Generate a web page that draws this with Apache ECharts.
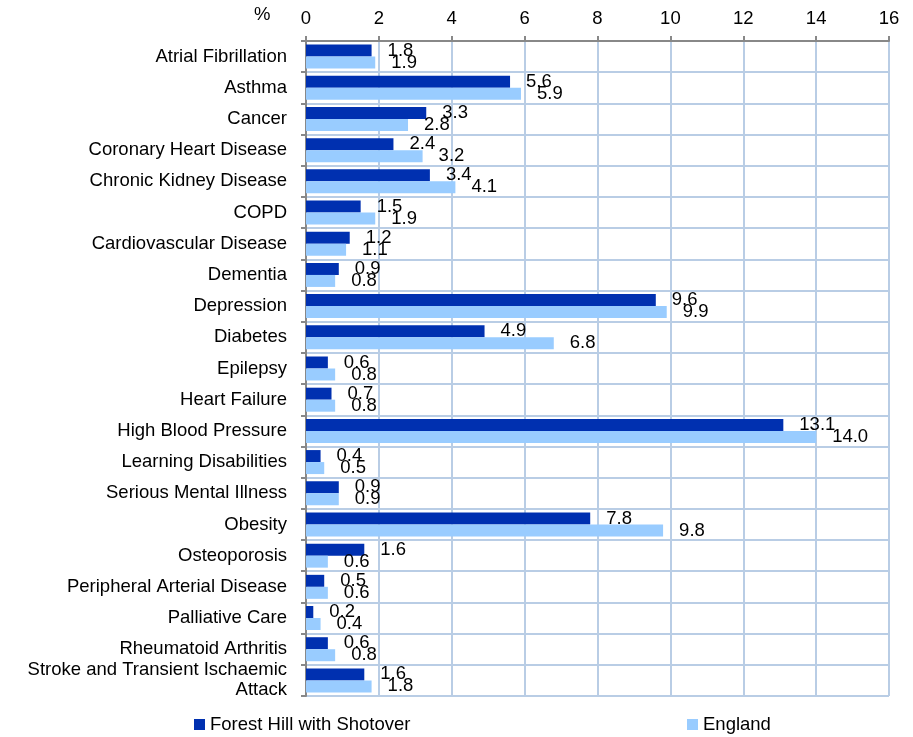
<!DOCTYPE html>
<html><head><meta charset="utf-8">
<script src="https://cdn.jsdelivr.net/npm/echarts@6/dist/echarts.min.js"></script>
<style>html,body{margin:0;padding:0;background:#fff}#c{width:913px;height:737px}</style>
</head><body><div id="c"></div>
<script>
const categories = ["Atrial Fibrillation","Asthma","Cancer","Coronary Heart Disease","Chronic Kidney Disease","COPD","Cardiovascular Disease","Dementia","Depression","Diabetes","Epilepsy","Heart Failure","High Blood Pressure","Learning Disabilities","Serious Mental Illness","Obesity","Osteoporosis","Peripheral Arterial Disease","Palliative Care","Rheumatoid Arthritis","Stroke and Transient Ischaemic\nAttack"];
const forestHill = [1.8,5.6,3.3,2.4,3.4,1.5,1.2,0.9,9.6,4.9,0.6,0.7,13.1,0.4,0.9,7.8,1.6,0.5,0.2,0.6,1.6];
const england = [1.9,5.9,2.8,3.2,4.1,1.9,1.1,0.8,9.9,6.8,0.8,0.8,14.0,0.5,0.9,9.8,0.6,0.6,0.4,0.8,1.8];
const seriesNames = ["Forest Hill with Shotover","England"];
const FONT = "'Liberation Sans', Arial, sans-serif";
const FS = 18.5;
const chart = echarts.init(document.getElementById('c'));
const lbl = {show:true, position:'right', distance:16, color:'#000', fontSize:FS, fontFamily:FONT, formatter:p=>p.value.toFixed(1)};
chart.setOption({
  animation:false,
  textStyle:{fontFamily:FONT},
  grid:{left:306, right:24, top:41, bottom:41, containLabel:false},
  graphic:[{type:'text', left:254, top:5, style:{text:'%', fontSize:FS, fontFamily:FONT, fill:'#000'}}],
  legend:[
    {data:[seriesNames[0]], left:189, top:710, itemWidth:11, itemHeight:11, itemGap:7, icon:'rect', textStyle:{fontSize:FS, fontFamily:FONT, color:'#000'}},
    {data:[seriesNames[1]], left:682, top:710, itemWidth:11, itemHeight:11, itemGap:7, icon:'rect', textStyle:{fontSize:FS, fontFamily:FONT, color:'#000'}}
  ],
  xAxis:{type:'value', position:'top', min:0, max:16, interval:2,
    axisLine:{show:true, lineStyle:{color:'#888', width:2}},
    axisTick:{show:true, length:5, lineStyle:{color:'#888', width:2}},
    axisLabel:{fontSize:FS, fontFamily:FONT, color:'#000', margin:13},
    splitLine:{show:true, lineStyle:{color:'#b9cde5', width:2}}},
  yAxis:{type:'category', data:categories, inverse:true,
    axisLine:{show:true, lineStyle:{color:'#888', width:2}},
    axisTick:{show:true, length:5, lineStyle:{color:'#888', width:2}},
    axisLabel:{interval:0, hideOverlap:false, fontSize:FS, fontFamily:FONT, color:'#000', margin:19, lineHeight:20},
    splitLine:{show:true, lineStyle:{color:'#b9cde5', width:2}}},
  series:[
    {name:seriesNames[0], type:'bar', data:forestHill, barWidth:12, barGap:'0%', itemStyle:{color:'#0030b0'}, label:lbl},
    {name:seriesNames[1], type:'bar', data:england, barWidth:12, barGap:'0%', itemStyle:{color:'#99ccff'}, label:lbl}
  ]
});
</script></body></html>
